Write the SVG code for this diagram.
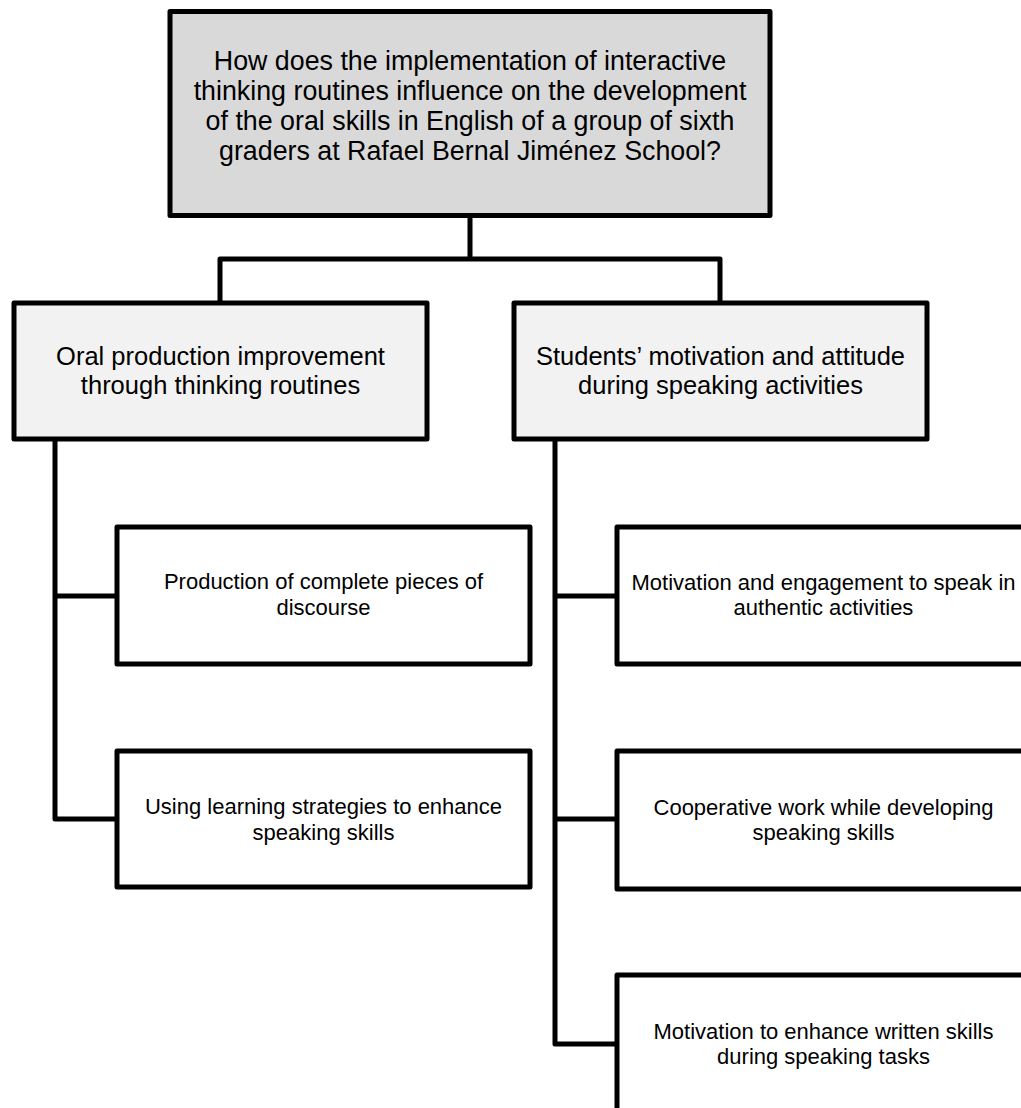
<svg xmlns="http://www.w3.org/2000/svg" width="1021" height="1108" viewBox="0 0 1021 1108">
<style>
.box{stroke:#000;stroke-width:5;stroke-linejoin:round}
.q{fill:#d9d9d9}
.l2{fill:#f2f2f2}
.l3{fill:#fff}
.conn{fill:none;stroke:#000;stroke-width:5;stroke-linejoin:round}
text{font-family:"Liberation Sans",Arial,sans-serif;fill:#000;text-anchor:middle}
.top{font-size:26.8px}
.big{font-size:25.5px}
.small{font-size:22px}
</style>
<rect width="1021" height="1108" fill="#fff"/>
<g id="connectors">
<path class="conn" d="M470 215 V259 M220 303 V259 H720 V303"/>
<path class="conn" d="M55 439 V819 H117 M55 596 H117"/>
<path class="conn" d="M555 439 V1044 H617 M555 596 H617 M555 819 H617"/>
</g>
<g id="question">
<rect class="box q" x="170" y="11.5" width="600" height="204"/>
<text class="top" x="470" y="70">How does the implementation of interactive</text>
<text class="top" x="470" y="100">thinking routines influence on the development</text>
<text class="top" x="470" y="130">of the oral skills in English of a group of sixth</text>
<text class="top" x="470" y="160">graders at Rafael Bernal Jiménez School?</text>
</g>
<g id="oral-production">
<rect class="box l2" x="14" y="303" width="413" height="136"/>
<text class="big" x="220.5" y="365">Oral production improvement</text>
<text class="big" x="220.5" y="394">through thinking routines</text>
</g>
<g id="motivation-attitude">
<rect class="box l2" x="514" y="303" width="413" height="136"/>
<text class="big" x="720.5" y="365">Students’ motivation and attitude</text>
<text class="big" x="720.5" y="394">during speaking activities</text>
</g>
<g id="complete-pieces">
<rect class="box l3" x="117" y="527" width="413" height="137"/>
<text class="small" x="323.5" y="589">Production of complete pieces of</text>
<text class="small" x="323.5" y="615">discourse</text>
</g>
<g id="learning-strategies">
<rect class="box l3" x="117" y="751" width="413" height="136"/>
<text class="small" x="323.5" y="814">Using learning strategies to enhance</text>
<text class="small" x="323.5" y="840">speaking skills</text>
</g>
<g id="authentic-activities">
<rect class="box l3" x="617" y="527" width="413" height="137"/>
<text class="small" x="823.5" y="590">Motivation and engagement to speak in</text>
<text class="small" x="823.5" y="615">authentic activities</text>
</g>
<g id="cooperative-work">
<rect class="box l3" x="617" y="751" width="413" height="138"/>
<text class="small" x="823.5" y="815">Cooperative work while developing</text>
<text class="small" x="823.5" y="840">speaking skills</text>
</g>
<g id="written-skills">
<rect class="box l3" x="617" y="975" width="413" height="200"/>
<text class="small" x="823.5" y="1039">Motivation to enhance written skills</text>
<text class="small" x="823.5" y="1064">during speaking tasks</text>
</g>
</svg>
